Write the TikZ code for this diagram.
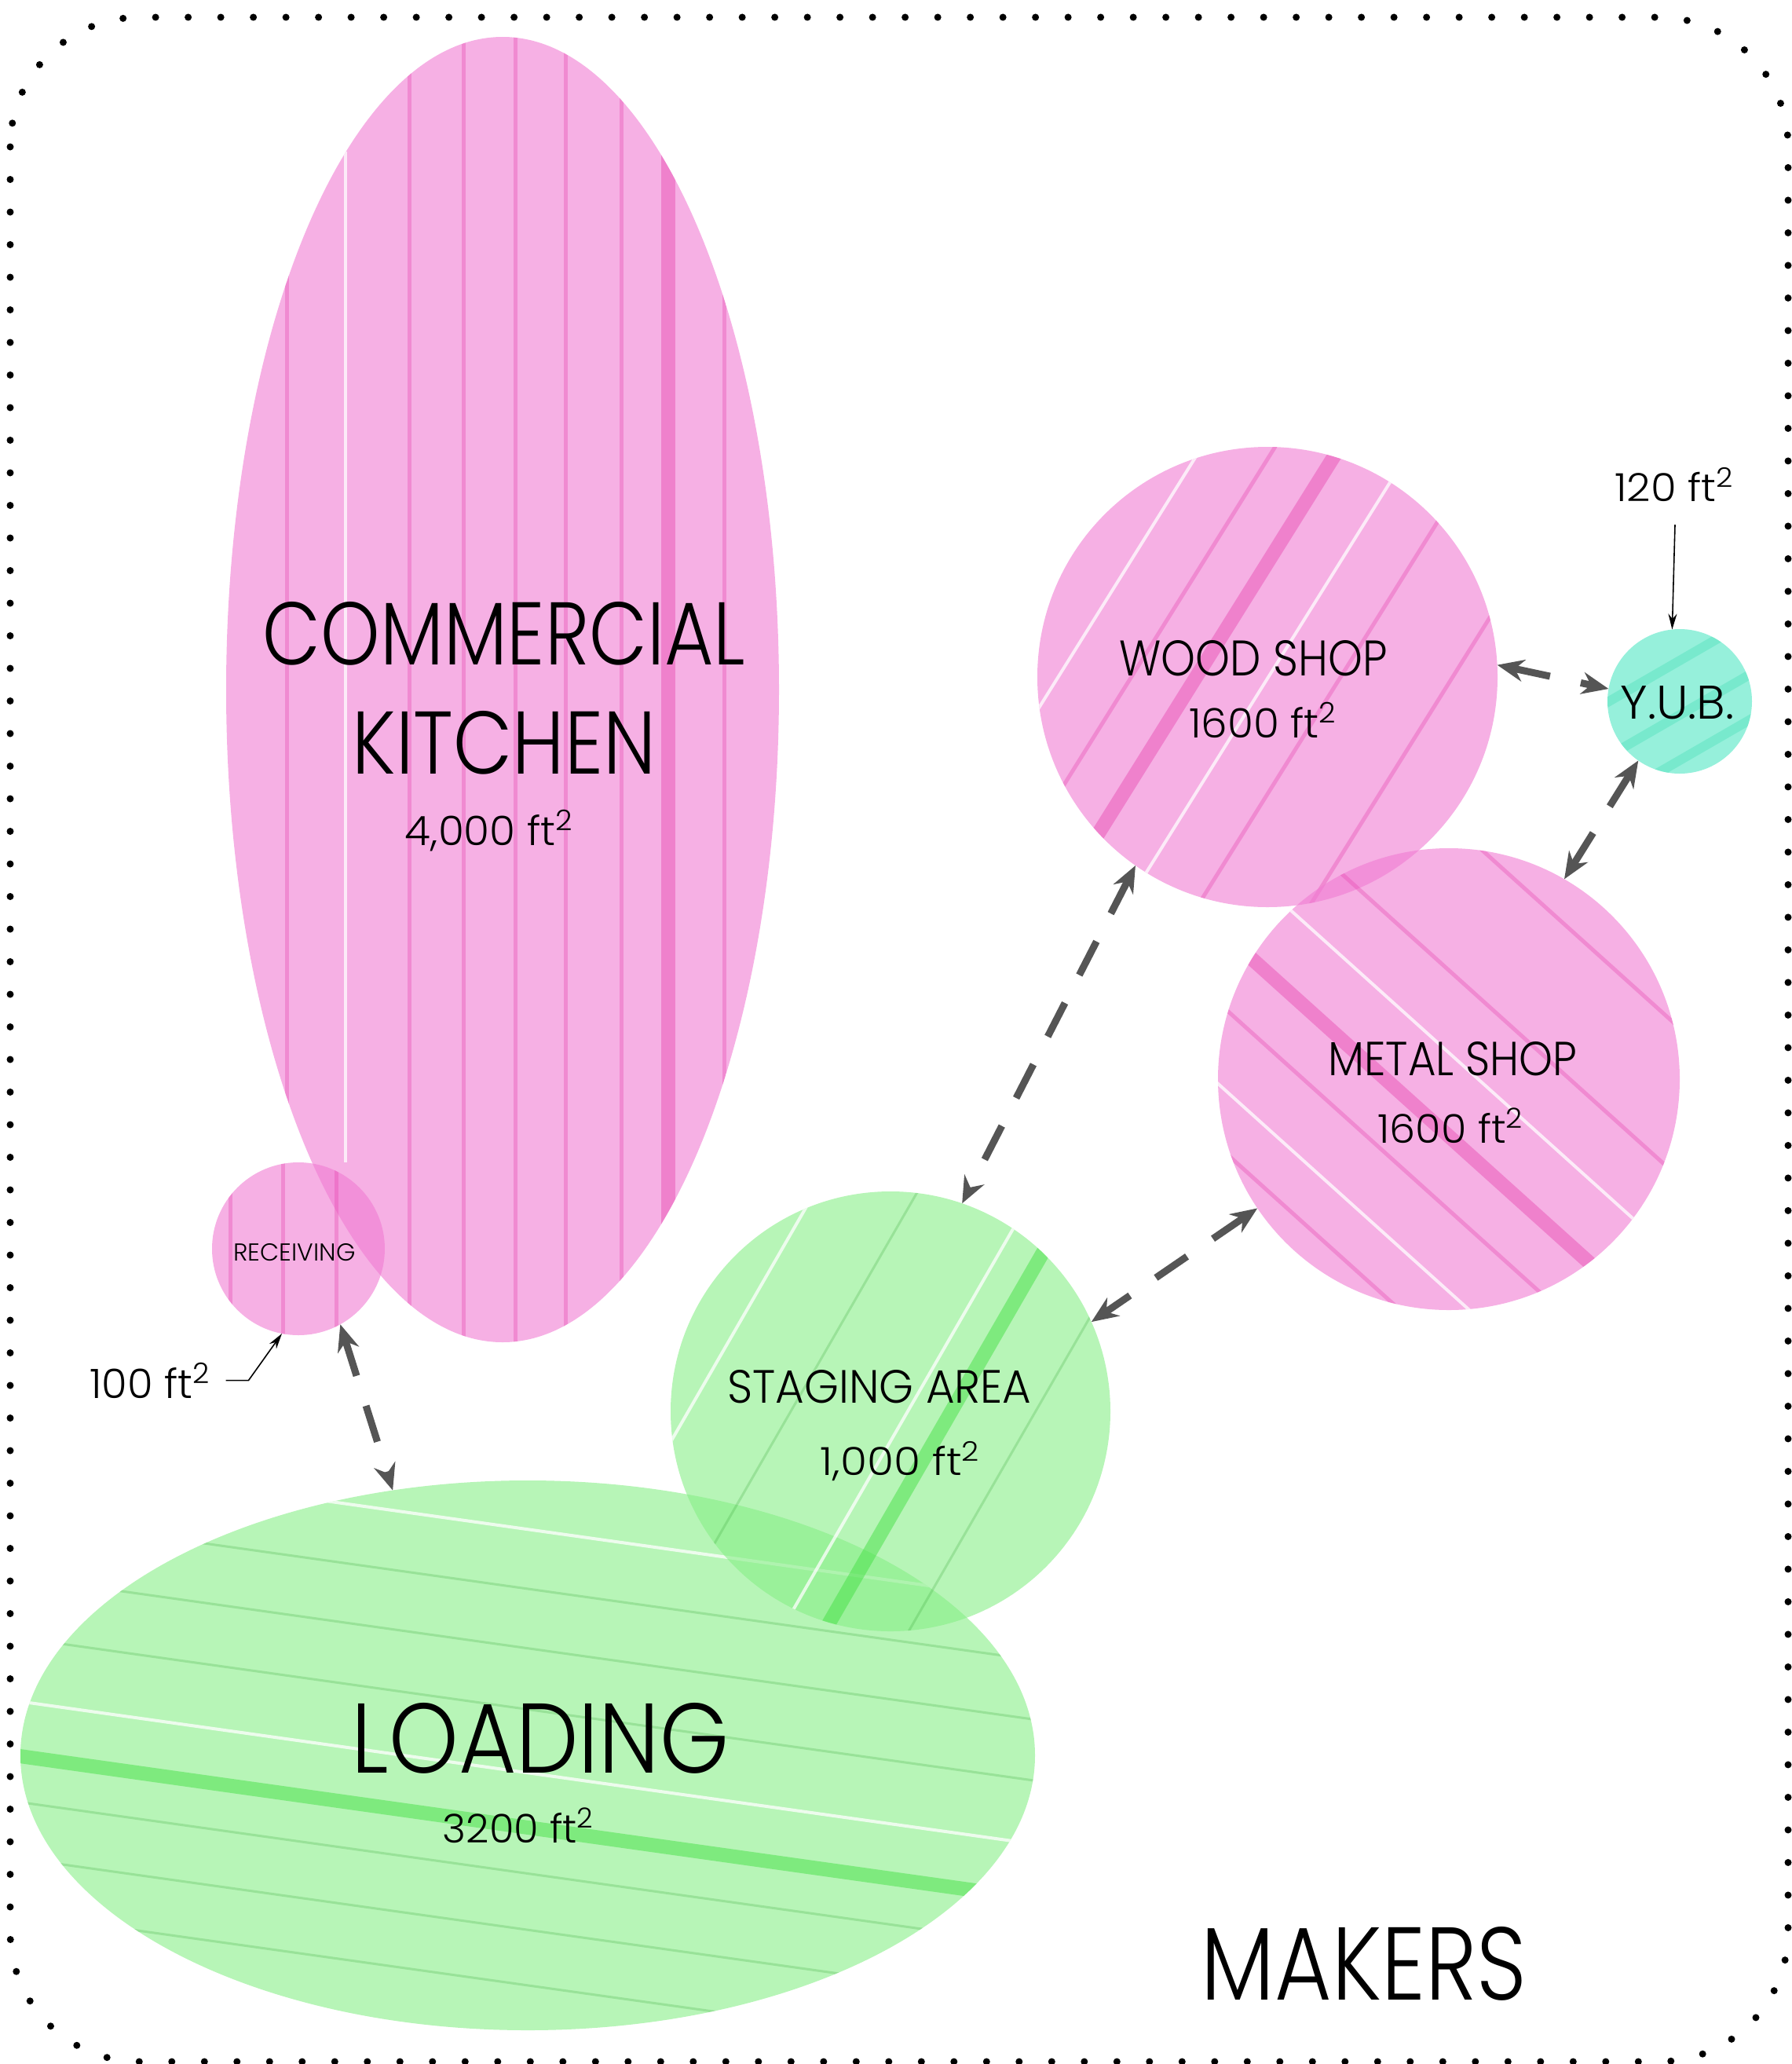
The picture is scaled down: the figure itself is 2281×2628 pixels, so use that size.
\documentclass[tikz,border=0pt]{standalone}
\usepackage{fontspec}
\setmainfont{Poppins}[UprightFont={* Light}]
\usetikzlibrary{shapes.geometric,arrows.meta}
\definecolor{pinkfill}{RGB}{240,123,210}
\definecolor{pinkline}{RGB}{230,60,170}
\definecolor{greenfill}{RGB}{135,238,135}
\definecolor{greenline}{RGB}{70,225,70}
\definecolor{greenthin}{RGB}{60,170,60}
\definecolor{cyanfill}{RGB}{80,230,195}
\definecolor{cyanline}{RGB}{30,215,165}
\definecolor{arrowgray}{RGB}{85,85,85}
\newcommand\fitlbl[3]{\resizebox{#1pt}{#2pt}{#3}}
\newcommand\sqft{ft\textsuperscript{2}}
% band: style, offset, angle (screen, counter-clockwise)
\newcommand\band[3]{\draw[#1] ({#2*sin(#3)-900*cos(#3)},{#2*cos(#3)+900*sin(#3)}) -- ({#2*sin(#3)+900*cos(#3)},{#2*cos(#3)-900*sin(#3)});}
\begin{document}
\begin{tikzpicture}[x=1pt,y=-1pt,
  room/.style={inner sep=0pt, outer sep=0pt, fill opacity=0.6, draw=none},
  pinkroom/.style={room, fill=pinkfill},
  greenroom/.style={room, fill=greenfill},
  cyanroom/.style={room, fill=cyanfill},
  lbl/.style={inner sep=0pt, outer sep=0pt, anchor=base, text=black},
  link/.style={draw=arrowgray, line width=9pt, dash pattern=on 48pt off 40pt,
    {Stealth[length=34pt,width=28pt]}-{Stealth[length=34pt,width=28pt]}},
  pointer/.style={draw=black, line width=1.6pt, -{Stealth[length=20pt,width=11pt]}},
  pthin/.style={draw=pinkline, draw opacity=0.32, line width=5pt},
  pthick/.style={draw=pinkline, draw opacity=0.4, line width=18pt},
  gthin/.style={draw=greenthin, draw opacity=0.25, line width=3pt},
  gthick/.style={draw=greenline, draw opacity=0.5, line width=18pt},
  cstripe/.style={draw=cyanline, draw opacity=0.25, line width=12pt},
  wline/.style={draw=white, draw opacity=0.75, line width=4pt},
  frame/.style={draw=black, line width=9pt, line cap=round, dash pattern=on 0pt off 41.5pt, rounded corners=165pt}
]
\useasboundingbox (0,0) rectangle (2281,2628);

% dotted frame
\draw[frame] (13,22) rectangle (2277,2625);

% ---- rooms ----
\node[pinkroom, ellipse, minimum width=704pt, minimum height=1662pt,
  path picture={\begin{scope}[shift={(path picture bounding box.center)}]
    \foreach \s in {-275,-119,-50,16,80,151,282} \draw[pthin] (\s,-900) -- (\s,900);
    \draw[pthick] (211,-900) -- (211,900);
    \draw[wline] (-200,-685) -- (-200,602);
  \end{scope}}] (kitchen) at (640,878) {};

\node[pinkroom, circle, minimum size=220pt,
  path picture={\begin{scope}[shift={(path picture bounding box.center)}]
    \foreach \s in {-87,-20,48} \draw[pthin] (\s,-200) -- (\s,200);
  \end{scope}}] (receiving) at (380,1590) {};

\node[greenroom, ellipse, minimum width=1292pt, minimum height=700pt,
  path picture={\begin{scope}[shift={(path picture bounding box.center)}]
    \foreach \s in {-210,-135,-58,149,220,290} {\band{gthin}{\s}{-8}}
    \band{gthick}{91}{-8}
    \foreach \s in {-285,22} {\band{wline}{\s}{-8}}
  \end{scope}}] (loading) at (672,2235) {};

\node[greenroom, circle, minimum size=560pt,
  path picture={\begin{scope}[shift={(path picture bounding box.center)}]
    \foreach \s in {-110,160} {\band{gthin}{\s}{60}}
    \band{gthick}{67}{60}
    \foreach \s in {-223,19} {\band{wline}{\s}{60}}
  \end{scope}}] (staging) at (1134,1797) {};

\node[pinkroom, circle, minimum size=586pt,
  path picture={\begin{scope}[shift={(path picture bounding box.center)}]
    \foreach \s in {-147,79,200} {\band{pthin}{\s}{58}}
    \band{pthick}{-77}{58}
    \foreach \s in {-226,1} {\band{wline}{\s}{58}}
  \end{scope}}] (wood) at (1614,862) {};

\node[pinkroom, circle, minimum size=588pt,
  path picture={\begin{scope}[shift={(path picture bounding box.center)}]
    \foreach \s in {-245,-103,124,260} {\band{pthin}{\s}{-42}}
    \band{pthick}{54}{-42}
    \foreach \s in {-25,201} {\band{wline}{\s}{-42}}
  \end{scope}}] (metal) at (1845,1374) {};

\node[cyanroom, circle, minimum size=184pt,
  path picture={\begin{scope}[shift={(path picture bounding box.center)}]
    \foreach \s in {-45,15,65} {\band{cstripe}{\s}{30}}
  \end{scope}}] (yub) at (2139,893) {};

% ---- labels ----
\node[lbl] (kitchenA) at (642,846) {\fitlbl{614}{80}{COMMERCIAL}};
\node[lbl] (kitchenB) at (642,985) {\fitlbl{386}{80}{KITCHEN}};
\node[lbl] (kitchenC) at (624,1076) {\fitlbl{216}{45}{4,000 \sqft}};
\node[lbl] (woodA) at (1596,860) {\fitlbl{341}{45}{WOOD SHOP}};
\node[lbl] (woodB) at (1609,939) {\fitlbl{190}{45}{1600 \sqft}};
\node[lbl] (metalA) at (1850,1369) {\fitlbl{317}{43}{METAL SHOP}};
\node[lbl] (metalB) at (1848,1455) {\fitlbl{187}{44}{1600 \sqft}};
\node[lbl] (yubA) at (2136,915) {\fitlbl{145}{42}{Y.U.B.}};
\node[lbl] (yubarea) at (2133,638) {\fitlbl{153}{43}{120 \sqft}};
\node[lbl] (recA) at (375,1605) {\fitlbl{155}{22}{RECEIVING}};
\node[lbl] (recarea) at (192,1780) {\fitlbl{155}{45}{100 \sqft}};
\node[lbl] (stagA) at (1120,1786) {\fitlbl{387}{42}{STAGING AREA}};
\node[lbl] (stagB) at (1147,1878) {\fitlbl{205}{43}{1,000 \sqft}};
\node[lbl] (loadA) at (688,2257) {\fitlbl{480}{89}{LOADING}};
\node[lbl] (loadB) at (661,2346) {\fitlbl{194}{44}{3200 \sqft}};
\node[lbl] (makers) at (1737,2546) {\fitlbl{414}{93}{MAKERS}};

% ---- connectors ----
\draw[link] (receiving.299) -- (loading.117.3);
\draw[link] (wood.235.5) -- (staging.71.4);
\draw[link] (metal.214.1) -- (staging.24.8);
\draw[link] (wood.3.2) -- (yub.170);
\draw[link] (yub.235.3) -- (metal.60.3);
\draw[pointer] ([yshift=-30pt]yubarea.south) -- (yub.96);
\draw[pointer] ([xshift=18pt]recarea.east) -- ++(29,0) -- (receiving.259.5);
\end{tikzpicture}
\end{document}
